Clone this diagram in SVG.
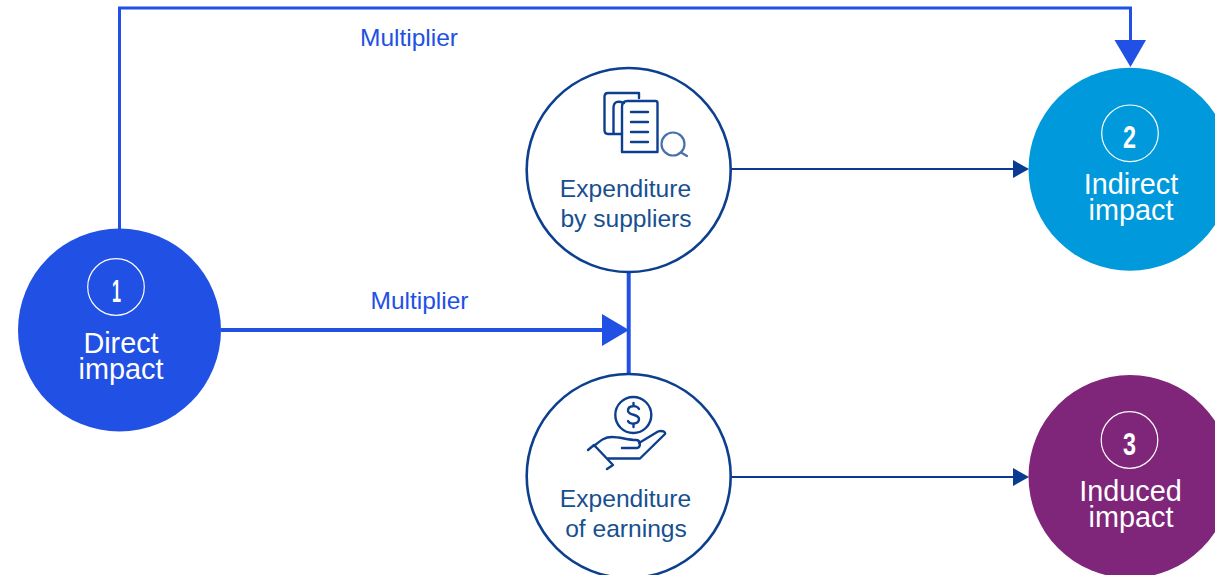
<svg xmlns="http://www.w3.org/2000/svg" width="1215" height="575" viewBox="0 0 1215 575">
<style>
text{font-family:"Liberation Sans",Arial,sans-serif}
.big{font-size:28.8px;fill:#fff;text-anchor:middle}
.mid{font-size:24.6px;fill:#17508f;text-anchor:middle}
.mul{font-size:24.5px;fill:#2150e4;text-anchor:middle}
.num{font-weight:700;font-size:32px;fill:#fff;text-anchor:middle}
.ring{fill:none;stroke:#fff;stroke-width:1.2}
.sc{fill:#fff;stroke:#0d3f8f;stroke-width:2.6}
.ic{fill:none;stroke:#0d3f8f;stroke-width:2.4;stroke-linecap:round;stroke-linejoin:round}
.ic2{fill:none;stroke:#4a6fae;stroke-width:2.2;stroke-linecap:round;stroke-linejoin:round}
.blue{fill:none;stroke:#2150e4}
.navy{fill:none;stroke:#0a3a91;stroke-width:2}
</style>
<rect width="1215" height="575" fill="#fff"/>
<g id="connectors">
<path class="blue" stroke-width="3" d="M119.500 230V8H1130.500V42"/>
<path d="M1114.500 40H1146L1130.500 67Z" fill="#2150e4"/>
<path class="blue" stroke-width="4" d="M221 330H604"/>
<path d="M602 314L629 330L602 346Z" fill="#2150e4"/>
<path class="blue" stroke-width="4" d="M628.700 272V375"/>
<path class="navy" d="M731 169H1015"/>
<path d="M1013 160L1029 169L1013 178Z" fill="#0a3a91"/>
<path class="navy" d="M731 477H1015"/>
<path d="M1013 468L1029 477L1013 486Z" fill="#0a3a91"/>
<text class="mul" x="409" y="46">Multiplier</text>
<text class="mul" x="419.500" y="309">Multiplier</text>
</g>
<g id="direct">
<circle cx="119.500" cy="330" r="101.500" fill="#2150e4"/>
<circle class="ring" cx="116" cy="287" r="28.300"/>
<text class="num" x="116.500" y="302" textLength="9" lengthAdjust="spacingAndGlyphs">1</text>
<text class="big" x="121" y="353">Direct</text>
<text class="big" x="121" y="379">impact</text>
</g>
<g id="indirect">
<circle cx="1130" cy="169.300" r="101.500" fill="#0099db"/>
<circle class="ring" cx="1130" cy="133.300" r="28.300"/>
<text class="num" x="1129.500" y="148" textLength="13" lengthAdjust="spacingAndGlyphs">2</text>
<text class="big" x="1131" y="193.500">Indirect</text>
<text class="big" x="1131" y="219.500">impact</text>
</g>
<g id="induced">
<circle cx="1130" cy="476.500" r="101.500" fill="#80267a"/>
<circle class="ring" cx="1129.500" cy="440" r="28.300"/>
<text class="num" x="1129.500" y="455" textLength="13" lengthAdjust="spacingAndGlyphs">3</text>
<text class="big" x="1130.500" y="500.500">Induced</text>
<text class="big" x="1131" y="526.500">impact</text>
</g>
<g id="suppliers">
<circle class="sc" cx="628.700" cy="170" r="102"/>
<path class="ic" d="M639 98V93H608Q604.500 93 604.500 97V130Q604.500 134 608 134H622"/>
<path class="ic" d="M622 152V107Q622 101 627.500 101H655.500Q657.500 101 657.500 103V152ZM624 103Q613.500 99 613.500 108V133"/>
<path class="ic" d="M631 112H648M631 122H648M631 132H648M631 142H648"/>
<circle class="ic2" cx="673" cy="144" r="11.500"/>
<path class="ic2" d="M681 152.500L687 156"/>
<text class="mid" x="625.500" y="197">Expenditure</text>
<text class="mid" x="626" y="227">by suppliers</text>
</g>
<g id="earnings">
<circle class="sc" cx="628.700" cy="476" r="102"/>
<circle class="ic" cx="633.300" cy="415" r="18"/>
<path class="ic" d="M639 409C637 405 628 405 628 410.500C628 416 639 413.500 639 419C639 424.500 630 425 628 421M633.500 403V406M633.500 424V427"/>
<path class="ic" d="M594 446C600 441 604 437 612 437C620 437 628 440 636 440C641 440 641 448 637 448H622"/>
<path class="ic" d="M639 443L658 431.500C662 430 666 432 665 434L640 458.500H608"/>
<path class="ic" d="M588 450L594 445L613 465L607 469"/>
<text class="mid" x="625.500" y="507">Expenditure</text>
<text class="mid" x="626" y="537">of earnings</text>
</g>
</svg>
